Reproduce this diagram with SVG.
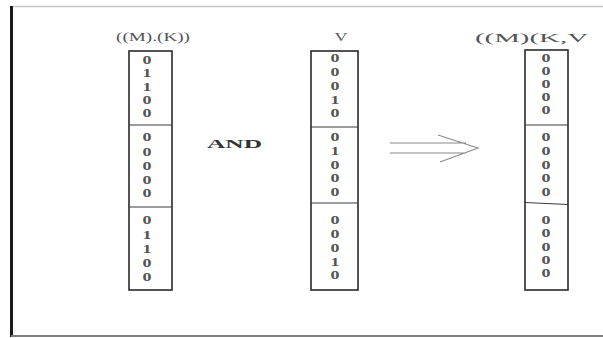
<svg xmlns="http://www.w3.org/2000/svg" width="603" height="338" viewBox="0 0 603 338">
  <style>
    .frame-top { stroke: #c8c8c8; stroke-width: 1.5; }
    .frame-left { stroke: #1a1a1a; stroke-width: 3; }
    .frame-bottom { stroke: #808080; stroke-width: 2; }
    .col { fill: none; stroke: #2a2a2a; stroke-width: 1.6; }
    .div { stroke: #3a3a3a; stroke-width: 1.2; }
    .bit { font-family: "Liberation Serif", serif; font-size: 12px; font-weight: bold; fill: #555555; text-anchor: middle; }
    .label { font-family: "Liberation Serif", serif; font-size: 12px; fill: #555555; }
    .op { font-family: "Liberation Serif", serif; font-size: 12px; font-weight: bold; fill: #333333; }
    .arrow { fill: none; stroke: #8a8a8a; stroke-width: 1.1; }
  </style>

  <!-- page frame -->
  <g id="frame">
    <line class="frame-top" x1="12" y1="6.5" x2="603" y2="6.5"/>
    <line class="frame-left" x1="11.5" y1="6" x2="11.5" y2="337"/>
    <line class="frame-bottom" x1="11" y1="336" x2="603" y2="336"/>
  </g>

  <!-- column 1: ((M).(K)) ; bits are drawn horizontally widened -->
  <g id="col-mk">
    <text class="label" x="116" y="41" textLength="74" lengthAdjust="spacingAndGlyphs">((M).(K))</text>
    <rect class="col" x="129" y="51" width="43" height="239"/>
    <line class="div" x1="129" y1="125" x2="172" y2="125"/>
    <line class="div" x1="129" y1="207" x2="172" y2="207"/>
    <g class="bit">
      <text transform="translate(147 64) scale(1.5 1)">0</text>
      <text transform="translate(147 77) scale(1.5 1)">1</text>
      <text transform="translate(147 91) scale(1.5 1)">1</text>
      <text transform="translate(147 104) scale(1.5 1)">0</text>
      <text transform="translate(147 117) scale(1.5 1)">0</text>

      <text transform="translate(147 141) scale(1.5 1)">0</text>
      <text transform="translate(147 156) scale(1.5 1)">0</text>
      <text transform="translate(147 170) scale(1.5 1)">0</text>
      <text transform="translate(147 184) scale(1.5 1)">0</text>
      <text transform="translate(147 197) scale(1.5 1)">0</text>

      <text transform="translate(147 224) scale(1.5 1)">0</text>
      <text transform="translate(147 239) scale(1.5 1)">1</text>
      <text transform="translate(147 253) scale(1.5 1)">1</text>
      <text transform="translate(147 267) scale(1.5 1)">0</text>
      <text transform="translate(147 281) scale(1.5 1)">0</text>
    </g>
  </g>

  <!-- operator -->
  <g id="op-and">
    <text class="op" x="207" y="148" textLength="55" lengthAdjust="spacingAndGlyphs">AND</text>
  </g>

  <!-- column 2: V -->
  <g id="col-v">
    <text class="label" transform="translate(341 41) scale(1.5 1)" text-anchor="middle">V</text>
    <rect class="col" x="311" y="51" width="47" height="239"/>
    <line class="div" x1="311" y1="127" x2="358" y2="127"/>
    <line class="div" x1="311" y1="203" x2="358" y2="203"/>
    <g class="bit">
      <text transform="translate(335 62) scale(1.5 1)">0</text>
      <text transform="translate(335 76) scale(1.5 1)">0</text>
      <text transform="translate(335 90) scale(1.5 1)">0</text>
      <text transform="translate(335 104) scale(1.5 1)">1</text>
      <text transform="translate(335 117) scale(1.5 1)">0</text>

      <text transform="translate(335 141) scale(1.5 1)">0</text>
      <text transform="translate(335 155) scale(1.5 1)">1</text>
      <text transform="translate(335 169) scale(1.5 1)">0</text>
      <text transform="translate(335 182) scale(1.5 1)">0</text>
      <text transform="translate(335 196) scale(1.5 1)">0</text>

      <text transform="translate(335 224) scale(1.5 1)">0</text>
      <text transform="translate(335 238) scale(1.5 1)">0</text>
      <text transform="translate(335 252) scale(1.5 1)">0</text>
      <text transform="translate(335 266) scale(1.5 1)">1</text>
      <text transform="translate(335 279) scale(1.5 1)">0</text>
    </g>
  </g>

  <!-- implication arrow -->
  <g id="connectors">
    <path class="arrow" d="M390 143 H466 M390 153 H466 M438 135 L478 148 L440 162"/>
  </g>

  <!-- column 3: ((M)(K,V -->
  <g id="col-mkv">
    <text class="label" x="475" y="42" textLength="113" lengthAdjust="spacingAndGlyphs">((M)(K,V</text>
    <rect class="col" x="525" y="50" width="43" height="240"/>
    <line class="div" x1="525" y1="125" x2="568" y2="125"/>
    <line class="div" x1="525" y1="202.5" x2="568" y2="204.5"/>
    <g class="bit">
      <text transform="translate(546 62) scale(1.5 1)">0</text>
      <text transform="translate(546 75) scale(1.5 1)">0</text>
      <text transform="translate(546 88) scale(1.5 1)">0</text>
      <text transform="translate(546 101) scale(1.5 1)">0</text>
      <text transform="translate(546 114) scale(1.5 1)">0</text>

      <text transform="translate(546 141) scale(1.5 1)">0</text>
      <text transform="translate(546 155) scale(1.5 1)">0</text>
      <text transform="translate(546 169) scale(1.5 1)">0</text>
      <text transform="translate(546 182) scale(1.5 1)">0</text>
      <text transform="translate(546 196) scale(1.5 1)">0</text>

      <text transform="translate(546 224) scale(1.5 1)">0</text>
      <text transform="translate(546 237) scale(1.5 1)">0</text>
      <text transform="translate(546 251) scale(1.5 1)">0</text>
      <text transform="translate(546 264) scale(1.5 1)">0</text>
      <text transform="translate(546 277) scale(1.5 1)">0</text>
    </g>
  </g>
</svg>
